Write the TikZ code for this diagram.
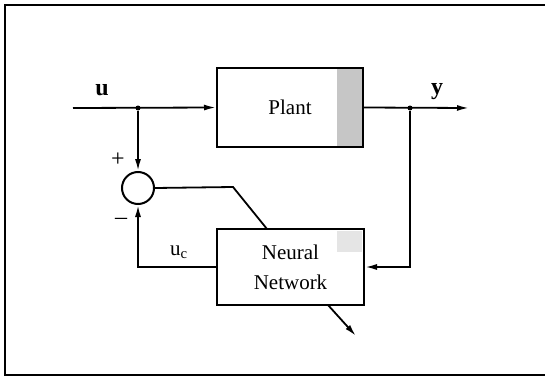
\documentclass[tikz,border=0pt]{standalone}
\usepackage{fontspec}
\setmainfont{Liberation Serif}
\usetikzlibrary{arrows.meta,calc}
\begin{document}
\begin{tikzpicture}[x=1pt,y=-1pt,
  line width=1.8pt,
  tip/.style={-{Latex[length=12pt,width=6pt]}},
  blockbox/.style={draw,line width=2pt,rectangle,inner sep=0pt,font=\fontsize{21}{30}\selectfont,align=center},
  sumnode/.style={draw,line width=2pt,circle,minimum size=32pt,inner sep=0pt},
  lab/.style={font=\fontsize{24}{26}\selectfont\bfseries,inner sep=0pt},
  sign/.style={font=\fontsize{24}{26}\selectfont,inner sep=0pt},
  dot/.style={circle,fill,inner sep=0pt,minimum size=5pt}]
\useasboundingbox (0,0) rectangle (545,377);
% frame
\draw[line width=2.2pt] (545,5) -- (5,5) -- (5,375) -- (545,375);
% shaded strips
\fill[gray!45] (337,68) rectangle (363,147);
\fill[gray!20] (337,231) rectangle (362,252);
% blocks
\node[blockbox,minimum width=146pt,minimum height=79pt] (plant) at (290,107.5) {Plant};
\node[blockbox,minimum width=147pt,minimum height=76pt] (nn) at (290.5,267) {Neural\\Network};
\node[sumnode] (sum) at (138,188) {};
% coordinates
\coordinate (uin) at (73,108);
\node[dot] (j1) at (138,108) {};
\coordinate (yout) at (469,108);
\node[dot] (j2) at (410,108) {};
\coordinate (bend) at (233,187);
\coordinate (nntop) at (267,229);
\coordinate (nnbot) at (328,305);
\coordinate (nnout) at (356,336);
% connectors
\draw[tip] (uin) -- (plant.west);
\draw[tip] (j1) -- (sum.north);
\draw[tip] (plant.east) -- (yout);
\draw[tip] (j2) |- (nn.east);
\draw[tip] (nn.west) -| (sum.south);
\draw (sum.east) -- (bend) -- (nntop);
\draw[tip] (nnbot) -- (nnout);
% labels
\node[lab] (ulab) at (102,90) {u};
\node[lab] (ylab) at (437,92) {y};
\node[sign] (plus) at (118,160) {+};
\node[sign] (minus) at (121,221) {\textendash};
\node[sign,font=\fontsize{21}{24}\selectfont] (uclab) at (179,252) {u\textsubscript{c}};
\end{tikzpicture}
\end{document}
